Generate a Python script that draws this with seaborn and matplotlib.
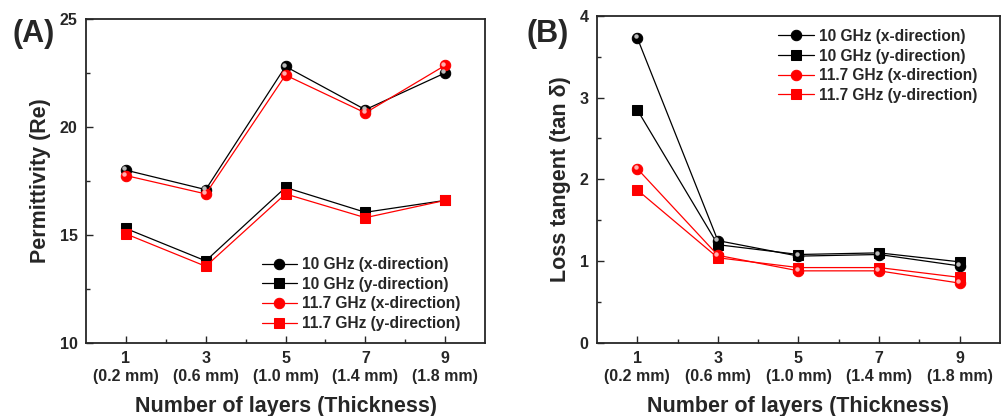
"""Permittivity and loss tangent vs. number of layers (two panels)."""
import matplotlib
matplotlib.use('Agg')
import matplotlib.pyplot as plt
import matplotlib.transforms as mtransforms
from matplotlib.ticker import MultipleLocator
import pandas as pd
import seaborn as sns

# layers and thickness labels
layers = [1, 3, 5, 7, 9]
thickness = ['0.2 mm', '0.6 mm', '1.0 mm', '1.4 mm', '1.8 mm']

# Panel A: permittivity (real part)
perm_10_x = [18.0, 17.1, 22.8, 20.8, 22.5]
perm_10_y = [15.3, 13.8, 17.2, 16.05, 16.6]
perm_117_x = [17.75, 16.9, 22.4, 20.65, 22.85]
perm_117_y = [15.05, 13.55, 16.9, 15.8, 16.6]

# Panel B: loss tangent
loss_10_x = [3.73, 1.25, 1.06, 1.08, 0.94]
loss_10_y = [2.85, 1.20, 1.08, 1.10, 0.99]
loss_117_x = [2.13, 1.07, 0.88, 0.88, 0.73]
loss_117_y = [1.87, 1.04, 0.92, 0.92, 0.80]

series_names = ['10 GHz (x-direction)', '10 GHz (y-direction)',
                '11.7 GHz (x-direction)', '11.7 GHz (y-direction)']
series_colors = ['black', 'black', '#ff0000', '#ff0000']
series_markers = ['o', 's', 'o', 's']
highlight_colors = ['#bbbbbb', None, '#ffb0b0', None]

sns.set_style('ticks')
plt.rcParams['font.family'] = ['Liberation Sans', 'DejaVu Sans']
plt.rcParams['font.weight'] = 'bold'
plt.rcParams['axes.labelweight'] = 'bold'
plt.rcParams['xtick.direction'] = 'in'
plt.rcParams['ytick.direction'] = 'in'


def draw_panel(ax, values, ylabel, ylim, ymajor, legend_anchor):
    """Draw one panel with the four series."""
    for name, vals, color, marker, hl in zip(series_names, values, series_colors,
                                             series_markers, highlight_colors):
        df = pd.DataFrame({'layers': layers, 'value': vals})
        sns.lineplot(data=df, x='layers', y='value', ax=ax, color=color,
                     marker=marker, markersize=7.5, markeredgecolor=color,
                     linewidth=0.9, label=name)
        if hl is not None:
            # small shine on the ball markers
            shine = mtransforms.offset_copy(ax.transData, fig=ax.figure,
                                            x=-1.2, y=1.2, units='points')
            ax.plot(layers, vals, linestyle='none', marker='o', markersize=2.2,
                    color=hl, transform=shine, zorder=5)

    ax.set_xlim(0, 10)
    ax.set_ylim(*ylim)
    ax.set_xticks(layers)
    ax.set_xticklabels([f'{n}\n({t})' for n, t in zip(layers, thickness)],
                       fontsize=11.5, fontweight='bold')
    ax.set_xticks([2, 4, 6, 8], minor=True)
    ax.yaxis.set_major_locator(MultipleLocator(ymajor))
    ax.yaxis.set_minor_locator(MultipleLocator(ymajor / 2))
    for lab in ax.get_yticklabels():
        lab.set_fontsize(11.5)
        lab.set_fontweight('bold')
    ax.tick_params(which='major', length=5, width=1, pad=6)
    ax.tick_params(which='minor', length=3, width=1)
    for side in ['top', 'right', 'left', 'bottom']:
        ax.spines[side].set_visible(True)
        ax.spines[side].set_linewidth(1.3)
    ax.set_xlabel('Number of layers (Thickness)', fontsize=15.5, fontweight='bold',
                  labelpad=9)
    ax.set_ylabel(ylabel, fontsize=15.5, fontweight='bold', labelpad=6)
    leg = ax.legend(loc='upper left', bbox_to_anchor=legend_anchor, frameon=False,
                    fontsize=11.2, handlelength=2.3, handletextpad=0.3,
                    labelspacing=0.3, borderpad=0, borderaxespad=0)
    for txt in leg.get_texts():
        txt.set_fontweight('bold')


fig = plt.figure(figsize=(10.05, 4.16), dpi=100)
ax_a = fig.add_axes([0.0856, 0.1755, 0.397, 0.779])
ax_b = fig.add_axes([0.594, 0.176, 0.401, 0.786])

draw_panel(ax_a, [perm_10_x, perm_10_y, perm_117_x, perm_117_y],
           'Permittivity (Re)', (10, 25), 5, (0.44, 0.265))
draw_panel(ax_b, [loss_10_x, loss_10_y, loss_117_x, loss_117_y],
           'Loss tangent (tan δ)', (0, 4), 1, (0.45, 0.96))

fig.text(0.012, 0.955, '(A)', fontsize=22, fontweight='bold', va='top', ha='left')
fig.text(0.524, 0.955, '(B)', fontsize=22, fontweight='bold', va='top', ha='left')

fig.savefig('out.png', dpi=100)
